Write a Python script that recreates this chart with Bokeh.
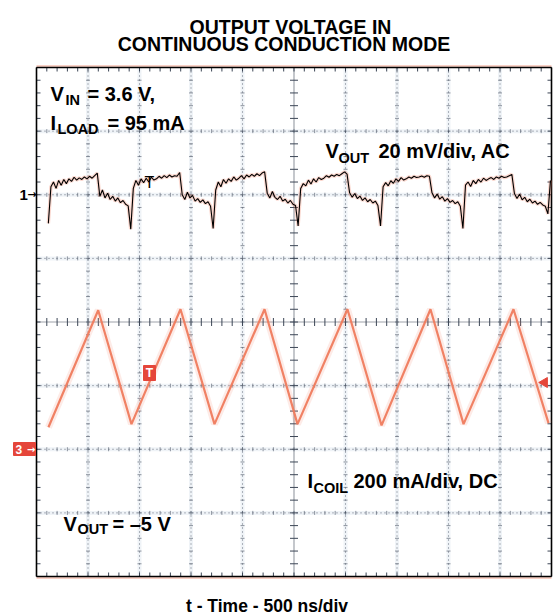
import numpy as np
from bokeh.plotting import figure
from bokeh.models import Range1d, Label
from bokeh.embed import file_html
from bokeh.resources import INLINE

# ---------------- data ----------------
# Channel 3: coil current, triangle vertices (time in ns, current in mA)
coil_time_ns = [116, 599, 922, 1398, 1728, 2214, 2534, 3019, 3350, 3825, 4146, 4631, 4971]
coil_current_ma = [69, 437, 79, 440, 79, 440, 79, 440, 75, 440, 79, 440, 82]

# Channel 1: output voltage ripple (AC coupled), one sample every 25 ns from 115 ns
vout_t0_ns = 115
vout_dt_ns = 25
vout_ripple_mv = [
    -9.0, 2.5, 4.0, 2.0, 4.5, 3.0, 4.8, 3.5, 5.0, 4.2, 5.5, 4.6, 5.3, 4.8, 5.6, 5.0, 5.8, 5.2, 6.0, 6.8,
    -0.5, 1.5, -1.0, 0.5, -1.5, -0.5, -2.0, -1.0, -2.5, -1.8, -3.0, -3.5,
    -10.8,
    2.0, 4.5, 3.0, 5.0, 3.8, 5.2, 4.0, 5.5, 4.6, 5.0, 5.8, 5.2, 6.0, 5.4, 6.2, 5.6, 6.0, 5.8, 7.0,
    0.0, -1.5, 0.8, -1.0, -0.2, -2.0, -1.2, -2.4, -1.6, -2.8, -2.2, -3.6,
    -10.6,
    1.5, 4.0, 2.5, 4.8, 3.6, 5.0, 4.2, 5.6, 4.6, 5.2, 6.0, 5.0, 6.2, 5.6, 6.4, 5.8, 6.6, 6.0, 6.8, 7.2,
    0.5, -1.0, 1.0, -0.8, -1.5, -0.5, -2.0, -1.4, -2.6, -1.8, -3.0, -3.4,
    -9.8,
    2.0, 3.5, 2.8, 4.6, 3.4, 5.0, 4.0, 5.4, 4.8, 5.2, 6.0, 5.5, 6.2, 5.8, 6.4, 6.0, 6.6, 7.2, 6.5,
    0.6, -0.8, 0.4, -1.2, -0.4, -1.8, -1.0, -2.2, -1.5, -2.6, -2.0, -3.4,
    -9.8,
    2.5, 3.8, 2.8, 4.4, 3.6, 5.0, 4.2, 5.4, 4.6, 5.0, 5.6, 5.2, 5.8, 5.4, 5.6, 5.9, 5.5, 6.0, 5.8,
    0.6, -1.0, 0.2, -1.4, -0.6, -2.0, -1.2, -2.4, -1.8, -2.8, -2.2, -3.6,
    -10.6,
    3.0, 4.0, 2.6, 4.5, 3.5, 4.8, 4.0, 5.2, 4.5, 5.0, 5.4, 4.8, 5.6, 5.2, 5.8, 5.4, 5.6, 6.0, 6.4,
    0.4, -1.2, 0.2, -1.6, -0.8, -2.2, -1.4, -2.6, -2.0, -3.0, -2.4, -3.2, -3.6,
    -6.0, 4.5,
]
vout_time_ns = [vout_t0_ns + vout_dt_ns * i for i in range(len(vout_ripple_mv))]

title_lines = ["OUTPUT VOLTAGE IN", "CONTINUOUS CONDUCTION MODE"]
x_label = "t - Time - 500 ns/div"

# scope settings
time_per_div_ns = 500
vout_mv_per_div = 20
coil_ma_per_div = 200
vout_ground_div = 2
coil_ground_div = -2

# ---------------- layout (pixels) ----------------
W, H = 557, 615
GL, GR, GT, GB = 36, 551, 67, 576          # graticule box on the canvas
NS_PER_PX = 10 * time_per_div_ns / (GR - GL)
DIV_PER_PX = 8 / (GB - GT)
x_start = -GL * NS_PER_PX
x_end = 10 * time_per_div_ns + (W - GR) * NS_PER_PX
y_top = 4 + GT * DIV_PER_PX
y_bot = -4 - (H - GB) * DIV_PER_PX


def X(px):
    return (px - GL) * NS_PER_PX


def Y(py):
    return ((GT + GB) / 2 - py) * DIV_PER_PX


FONT = "Liberation Sans"
SYM_FONT = "DejaVu Sans"
GRID = "#3c4656"
TRACE = "#ef7b5d"
RED = "#e5463a"

p = figure(width=W, height=H, output_backend="svg", toolbar_location=None,
           x_range=Range1d(x_start, x_end), y_range=Range1d(y_bot, y_top),
           x_axis_location=None, y_axis_location=None, title=None,
           min_border=0)
p.extra_y_ranges = {
    "vout": Range1d((y_bot - vout_ground_div) * vout_mv_per_div, (y_top - vout_ground_div) * vout_mv_per_div),
    "coil": Range1d((y_bot - coil_ground_div) * coil_ma_per_div, (y_top - coil_ground_div) * coil_ma_per_div),
}
p.xgrid.visible = False
p.ygrid.visible = False
p.outline_line_color = None
p.background_fill_color = "white"
p.border_fill_color = "white"

T_END = 10 * time_per_div_ns
# ---- graticule ----
maj_x = [time_per_div_ns * k for k in range(1, 10) if k != 5]
maj_y = [k for k in range(-3, 4) if k != 0]
minor_x = np.arange(0, T_END + 1, time_per_div_ns / 5)
minor_y = np.round(np.arange(-4, 4.001, 0.2), 3)

# soft halo under grid lines (scope photo blur)
p.segment(x0=maj_x, y0=-4, x1=maj_x, y1=4, line_color="#c9d6e4", line_width=4, line_alpha=0.3)
p.segment(x0=0, y0=maj_y, x1=T_END, y1=maj_y, line_color="#c9d6e4", line_width=4, line_alpha=0.3)

p.segment(x0=maj_x, y0=-4, x1=maj_x, y1=4, line_color=GRID, line_width=1, line_dash="1 3", line_alpha=0.75)
p.segment(x0=0, y0=maj_y, x1=T_END, y1=maj_y, line_color=GRID, line_width=1, line_dash="1 3", line_alpha=0.75)

# small ticks at 1/5 division on each grid line
gx0, gy0, gx1, gy1 = [], [], [], []
for gx in maj_x:
    for yy in minor_y:
        gx0.append(gx - 2 * NS_PER_PX); gx1.append(gx + 2 * NS_PER_PX); gy0.append(yy); gy1.append(yy)
for gy in maj_y:
    for xx in minor_x:
        gx0.append(xx); gx1.append(xx); gy0.append(gy - 2 * DIV_PER_PX); gy1.append(gy + 2 * DIV_PER_PX)
p.segment(x0=gx0, y0=gy0, x1=gx1, y1=gy1, line_color=GRID, line_width=1, line_alpha=0.55)

# center cross-hair
p.segment(x0=[T_END / 2, 0], y0=[-4, 0], x1=[T_END / 2, T_END], y1=[4, 0],
          line_color=GRID, line_width=1.2, line_dash="1 1")
p.segment(x0=T_END / 2 - 4 * NS_PER_PX, y0=minor_y, x1=T_END / 2 + 4 * NS_PER_PX, y1=minor_y,
          line_color=GRID, line_width=1)
p.segment(x0=minor_x, y0=-4 * DIV_PER_PX, x1=minor_x, y1=4 * DIV_PER_PX, line_color=GRID, line_width=1)

# border ticks
tk = 4
p.segment(x0=minor_x, y0=4, x1=minor_x, y1=4 - tk * DIV_PER_PX, line_color=GRID, line_width=1)
p.segment(x0=minor_x, y0=-4, x1=minor_x, y1=-4 + tk * DIV_PER_PX, line_color=GRID, line_width=1)
p.segment(x0=0, y0=minor_y, x1=tk * NS_PER_PX, y1=minor_y, line_color=GRID, line_width=1)
p.segment(x0=T_END, y0=minor_y, x1=T_END - tk * NS_PER_PX, y1=minor_y, line_color=GRID, line_width=1)

# salmon glow just outside top/bottom edges, then black frame
p.segment(x0=0, y0=[4 + 1.5 * DIV_PER_PX, -4 - 1.5 * DIV_PER_PX], x1=T_END,
          y1=[4 + 1.5 * DIV_PER_PX, -4 - 1.5 * DIV_PER_PX], line_color=TRACE, line_width=2, line_alpha=0.35)
p.segment(x0=[0, T_END, 0, 0], y0=[-4, -4, 4, -4], x1=[0, T_END, T_END, T_END], y1=[4, 4, 4, -4],
          line_color="black", line_width=1.6)

# ---- traces ----
p.line(coil_time_ns, coil_current_ma, y_range_name="coil", line_color=TRACE, line_width=7, line_alpha=0.15)
p.line(coil_time_ns, coil_current_ma, y_range_name="coil", line_color=TRACE, line_width=2.2, line_alpha=0.95)

p.line(vout_time_ns, vout_ripple_mv, y_range_name="vout", line_color=TRACE, line_width=3.5, line_alpha=0.3)
p.line(vout_time_ns, vout_ripple_mv, y_range_name="vout", line_color="black", line_width=1.1)

# ---- markers ----
p.quad(left=[X(143)], right=[X(155)], bottom=[Y(380)], top=[Y(365)], fill_color=RED, line_color=RED)
p.add_layout(Label(x=X(149), y=Y(372.5), text="T", text_font=FONT, text_font_size="12px", text_font_style="bold",
                   text_color="white", text_align="center", text_baseline="middle"))
p.scatter([X(544)], [Y(382)], marker="triangle", angle=np.pi / 2, size=10, fill_color=RED, line_color=RED)
p.add_layout(Label(x=X(149), y=Y(182), text="T", text_font=FONT, text_font_size="16px",
                   text_color="black", text_align="center", text_baseline="alphabetic"))

# channel ground markers
p.add_layout(Label(x=X(19), y=Y(194), text="1", text_font=FONT, text_font_size="15px", text_font_style="bold",
                   text_color="black", text_align="left", text_baseline="middle"))
p.add_layout(Label(x=X(36), y=Y(194), text="\u2192", text_font=SYM_FONT, text_font_size="11px",
                   text_font_style="bold", text_color="black", text_align="right", text_baseline="middle"))
p.quad(left=[X(13)], right=[X(35)], bottom=[Y(455)], top=[Y(442)], fill_color=RED, line_color=RED)
p.add_layout(Label(x=X(15), y=Y(448.5), text="3", text_font=FONT, text_font_size="12px", text_font_style="bold",
                   text_color="white", text_align="left", text_baseline="middle"))
p.add_layout(Label(x=X(35), y=Y(448.5), text="\u2192", text_font=SYM_FONT, text_font_size="10px",
                   text_font_style="bold", text_color="white", text_align="right", text_baseline="middle"))


def lab(px, py, text, size, align="left"):
    p.add_layout(Label(x=X(px), y=Y(py), text=text, text_font=FONT, text_font_size=size, text_font_style="bold",
                       text_color="black", text_align=align, text_baseline="alphabetic"))


MAIN = "20px"
SUB = "14.5px"
# V_IN = 3.6 V,
lab(50, 93, "V", MAIN); lab(65, 99, "IN", SUB); lab(87, 93, "= 3.6 V,", MAIN)
# I_LOAD = 95 mA
lab(50, 122, "I", MAIN); lab(57, 128, "LOAD", SUB); lab(107, 122, "= 95 mA", MAIN)
# V_OUT 20 mV/div, AC
lab(325, 150, "V", MAIN); lab(338, 157, "OUT", SUB); lab(378, 150, "20 mV/div, AC", MAIN)
# I_COIL 200 mA/div, DC
lab(307, 480, "I", MAIN); lab(313, 487, "COIL", SUB); lab(353, 480, "200 mA/div, DC", MAIN)
# V_OUT = -5 V
lab(63, 523, "V", MAIN); lab(77, 528, "OUT", SUB); lab(112, 523, "= \u20135 V", MAIN)

# title and x label
lab(290, 26, title_lines[0], "19.5px", align="center")
lab(283.5, 43.5, title_lines[1], "19.5px", align="center")
lab(266.5, 605, x_label, "17.5px", align="center")

open("out.html", "w").write(file_html(p, INLINE))
